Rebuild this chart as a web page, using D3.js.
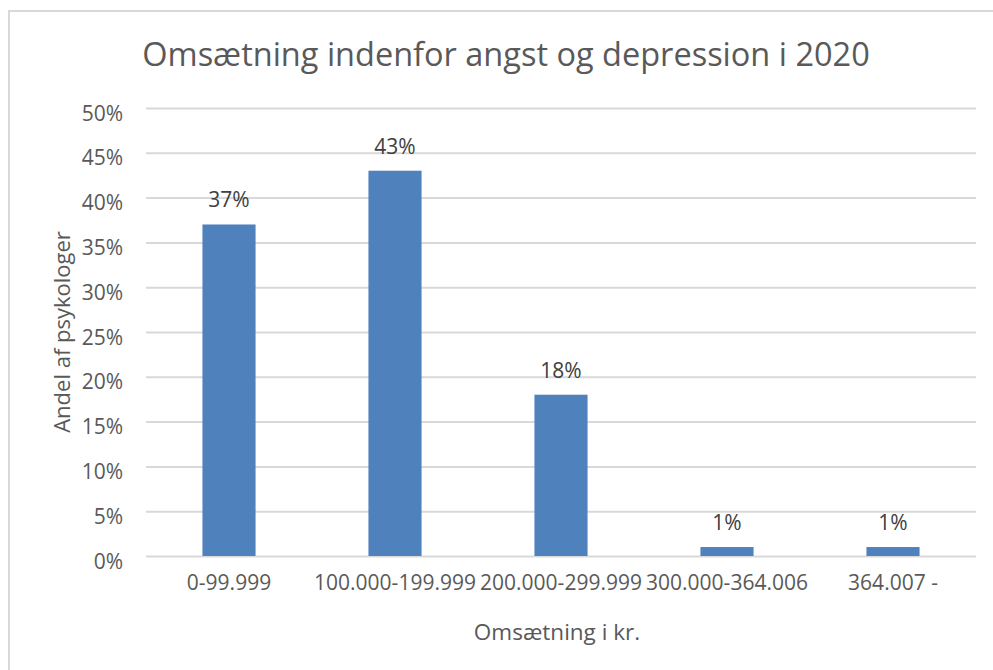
<!DOCTYPE html>
<html>
<head>
<meta charset="utf-8">
<script src="https://cdn.jsdelivr.net/npm/d3@7"></script>
<style>
  body { margin: 0; background: #fff; }
  text { font-family: "Open Sans", "Noto Sans", sans-serif; }
</style>
</head>
<body>
<div class="canvas"></div>
<script>
// Data
const categories = ["0-99.999", "100.000-199.999", "200.000-299.999", "300.000-364.006", "364.007 -"];
const shares = [37, 43, 18, 1, 1];
const y_ticks = [0, 5, 10, 15, 20, 25, 30, 35, 40, 45, 50];

const chart_title = "Omsætning indenfor angst og depression i 2020";
const x_title = "Omsætning i kr.";
const y_title = "Andel af psykologer";

// Settings
const width = 993;
const height = 670;
const bar_color = "#4f81bd";
const grid_color = "#d9d9d9";
const label_color = "#595959";
const value_color = "#404040";
const plot = {left: 146, right: 976, top: 108, bottom: 556};

const svg = d3.select(".canvas").append("svg")
    .attr("width", width)
    .attr("height", height);

// outer border
svg.append("rect")
    .attr("x", 9).attr("y", 11)
    .attr("width", width + 20).attr("height", height + 20)
    .attr("fill", "none")
    .attr("stroke", grid_color)
    .attr("stroke-width", 2);

const x = d3.scaleBand().domain(categories).range([plot.left, plot.right]).padding(0);
const y = d3.scaleLinear().domain([0, 50]).range([plot.bottom, plot.top]);
const bar_width = x.bandwidth() * 0.32;

// gridlines + y tick labels
const y_axis = d3.axisLeft(y).tickValues(y_ticks).tickFormat(d => d + "%")
    .tickSize(-(plot.right - plot.left)).tickPadding(23);

svg.append("g")
    .attr("transform", "translate(" + plot.left + ",0)")
    .call(y_axis)
    .call(g => g.select(".domain").remove())
    .call(g => g.selectAll(".tick line").attr("stroke", grid_color).attr("stroke-width", 2))
    .call(g => g.selectAll(".tick text")
        .attr("fill", label_color)
        .attr("font-size", "21px")
        .attr("dy", "0.58em")
        .attr("font-family", "Open Sans"));

// x axis labels
const x_axis = d3.axisBottom(x).tickSize(0).tickPadding(19);
svg.append("g")
    .attr("transform", "translate(0," + plot.bottom + ")")
    .call(x_axis)
    .call(g => g.select(".domain").remove())
    .call(g => g.selectAll(".tick text")
        .attr("fill", label_color)
        .attr("font-size", "21px")
        .attr("font-family", "Open Sans"));

// bars
svg.append("g")
    .selectAll("rect")
    .data(shares)
    .enter()
    .append("rect")
    .attr("x", (d, i) => x(categories[i]) + x.bandwidth() / 2 - bar_width / 2)
    .attr("y", d => y(d))
    .attr("width", bar_width)
    .attr("height", d => y(0) - y(d))
    .attr("fill", bar_color);

// value labels
svg.append("g")
    .selectAll("text")
    .data(shares)
    .enter()
    .append("text")
    .attr("x", (d, i) => x(categories[i]) + x.bandwidth() / 2)
    .attr("y", d => y(d) - 17)
    .attr("text-anchor", "middle")
    .attr("font-size", "21px")
    .attr("fill", value_color)
    .text(d => d + "%");

// titles
svg.append("text")
    .attr("x", 506)
    .attr("y", 66)
    .attr("text-anchor", "middle")
    .attr("font-size", "32.5px")
    .attr("fill", label_color)
    .text(chart_title);

svg.append("text")
    .attr("x", 557)
    .attr("y", 640)
    .attr("text-anchor", "middle")
    .attr("font-size", "22.5px")
    .attr("fill", label_color)
    .text(x_title);

svg.append("text")
    .attr("transform", "translate(70," + (plot.top + plot.bottom) / 2 + ") rotate(-90)")
    .attr("text-anchor", "middle")
    .attr("font-size", "22px")
    .attr("fill", label_color)
    .text(y_title);
</script>
</body>
</html>
